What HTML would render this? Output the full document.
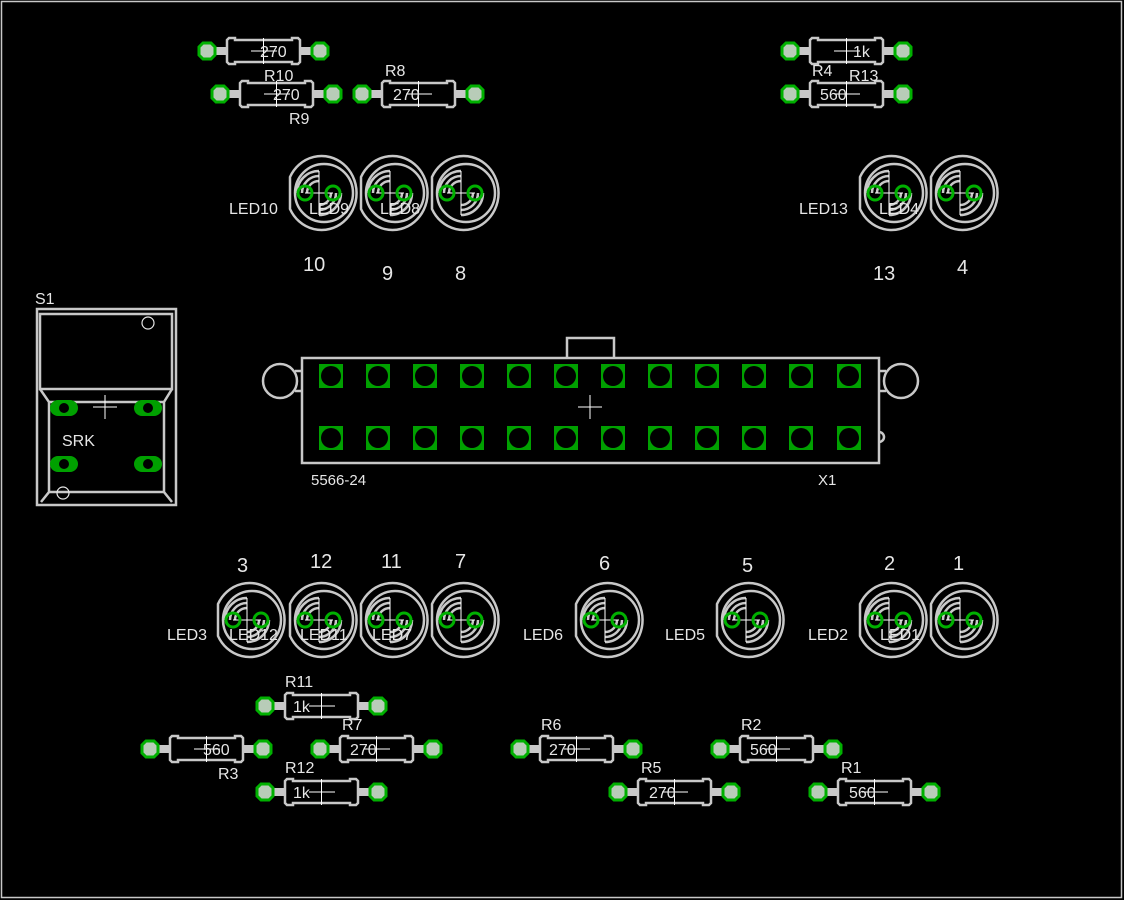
<!DOCTYPE html>
<html><head><meta charset="utf-8"><style>
html,body{margin:0;padding:0;background:#000;}
svg{display:block}
text{font-family:"Liberation Sans",sans-serif;fill:#e6e6e6}
</style></head><body>
<svg width="1124" height="900" viewBox="0 0 1124 900" xmlns="http://www.w3.org/2000/svg">
<defs>
<g id="res">
  <line x1="0" y1="0" x2="113" y2="0" stroke="#c8c8c8" stroke-width="8"/>
  <path d="M20,-11 L22,-13 L28,-13 L28,-11 L85,-11 L85,-13 L91,-13 L93,-11 L93,11 L91,13 L85,13 L85,11 L28,11 L28,13 L22,13 L20,11 Z" fill="#000" stroke="#c8c8c8" stroke-width="2.5"/>
  <polygon points="-4,-8 4,-8 8,-4 8,4 4,8 -4,8 -8,4 -8,-4" fill="#b8ccb8" stroke="#00b000" stroke-width="3"/>
  <polygon points="109,-8 117,-8 121,-4 121,4 117,8 109,8 105,4 105,-4" fill="#b8ccb8" stroke="#00b000" stroke-width="3"/>
  <line x1="44" y1="0" x2="70" y2="0" stroke="#fff" stroke-width="1"/>
  <line x1="56.5" y1="-13" x2="56.5" y2="13" stroke="#fff" stroke-width="1"/>
</g>
<g id="led" fill="none" stroke="#c8c8c8" stroke-width="2.5">
  <path d="M-29,-16 L-29,16 A35,37 0 1 0 -29,-16 Z"/>
  <circle cx="5" cy="0" r="29"/>
  <path d="M-22,0 A22,22 0 0 1 0,-22 M-17,0 A17,17 0 0 1 0,-17 M-12,0 A12,12 0 0 1 0,-12"/>
  <path d="M22,0 A22,22 0 0 1 0,22 M17,0 A17,17 0 0 1 0,17 M12,0 A12,12 0 0 1 0,12"/>
  <line x1="0" y1="-22" x2="0" y2="22" stroke="#fff" stroke-width="1"/>
  <line x1="-14" y1="0" x2="14" y2="0" stroke="#fff" stroke-width="1"/>
  <circle cx="-14" cy="0" r="7" stroke="#00b000" stroke-width="3"/>
  <circle cx="14" cy="0" r="7" stroke="#00b000" stroke-width="3"/>
</g>
<g id="pad">
  <rect x="-12" y="-12" width="24" height="24" fill="#00a000"/>
  <circle cx="0" cy="0" r="10" fill="#000"/>
</g>
</defs>
<rect x="1.5" y="1.5" width="1120" height="896" fill="none" stroke="#c8c8c8" stroke-width="1.5"/>

<use href="#res" x="207" y="51"/><text x="260" y="57" font-size="16">270</text><text x="264" y="81" font-size="16">R10</text>
<use href="#res" x="220" y="94"/><text x="273" y="100" font-size="16">270</text><text x="289" y="124" font-size="16">R9</text>
<use href="#res" x="362" y="94"/><text x="393" y="100" font-size="16">270</text><text x="385" y="76" font-size="16">R8</text>
<use href="#res" x="790" y="51"/><text x="853" y="57" font-size="16">1k</text><text x="812" y="76" font-size="16">R4</text>
<use href="#res" x="790" y="94"/><text x="820" y="100" font-size="16">560</text><text x="849" y="81" font-size="16">R13</text>
<use href="#res" x="265" y="706"/><text x="293" y="712" font-size="16">1k</text><text x="285" y="687" font-size="16">R11</text>
<use href="#res" x="150" y="749"/><text x="203" y="755" font-size="16">560</text><text x="218" y="779" font-size="16">R3</text>
<use href="#res" x="320" y="749"/><text x="350" y="755" font-size="16">270</text><text x="342" y="730" font-size="16">R7</text>
<use href="#res" x="265" y="792"/><text x="293" y="798" font-size="16">1k</text><text x="285" y="773" font-size="16">R12</text>
<use href="#res" x="520" y="749"/><text x="549" y="755" font-size="16">270</text><text x="541" y="730" font-size="16">R6</text>
<use href="#res" x="720" y="749"/><text x="750" y="755" font-size="16">560</text><text x="741" y="730" font-size="16">R2</text>
<use href="#res" x="618" y="792"/><text x="649" y="798" font-size="16">270</text><text x="641" y="773" font-size="16">R5</text>
<use href="#res" x="818" y="792"/><text x="849" y="798" font-size="16">560</text><text x="841" y="773" font-size="16">R1</text>

<use href="#led" x="319" y="193"/><use href="#led" x="390" y="193"/><use href="#led" x="461" y="193"/>
<use href="#led" x="889" y="193"/><use href="#led" x="960" y="193"/>
<g font-size="16">
<text x="229" y="214">LED10</text><text x="309" y="214">LED9</text><text x="380" y="214">LED8</text>
<text x="799" y="214">LED13</text><text x="879" y="214">LED4</text>
</g>
<g font-size="20">
<text x="303" y="271">10</text><text x="382" y="280">9</text><text x="455" y="280">8</text>
<text x="873" y="280">13</text><text x="957" y="274">4</text>
</g>

<use href="#led" x="247" y="620"/><use href="#led" x="319" y="620"/><use href="#led" x="390" y="620"/><use href="#led" x="461" y="620"/>
<use href="#led" x="605" y="620"/><use href="#led" x="746" y="620"/><use href="#led" x="889" y="620"/><use href="#led" x="960" y="620"/>
<g font-size="16">
<text x="167" y="640">LED3</text><text x="229" y="640">LED12</text><text x="300" y="640">LED11</text><text x="372" y="640">LED7</text>
<text x="523" y="640">LED6</text><text x="665" y="640">LED5</text><text x="808" y="640">LED2</text><text x="880" y="640">LED1</text>
</g>
<g font-size="20">
<text x="237" y="572">3</text><text x="310" y="568">12</text><text x="381" y="568">11</text><text x="455" y="568">7</text>
<text x="599" y="570">6</text><text x="742" y="572">5</text><text x="884" y="570">2</text><text x="953" y="570">1</text>
</g>

<g fill="none" stroke="#c8c8c8" stroke-width="2.5">
<rect x="302" y="358" width="577" height="105"/>
<path d="M567,358 L567,338 L614,338 L614,358"/>
<circle cx="280" cy="381" r="17"/>
<path d="M295,371 L302,371 M295,391 L302,391"/>
<circle cx="901" cy="381" r="17"/>
<path d="M879,371 L886,371 M879,391 L886,391"/>
<path d="M879,432 A5,5 0 0 1 879,442"/>
</g>
<g>
<use href="#pad" x="331" y="376"/><use href="#pad" x="378" y="376"/><use href="#pad" x="425" y="376"/><use href="#pad" x="472" y="376"/><use href="#pad" x="519" y="376"/><use href="#pad" x="566" y="376"/><use href="#pad" x="613" y="376"/><use href="#pad" x="660" y="376"/><use href="#pad" x="707" y="376"/><use href="#pad" x="754" y="376"/><use href="#pad" x="801" y="376"/><use href="#pad" x="849" y="376"/>
<use href="#pad" x="331" y="438"/><use href="#pad" x="378" y="438"/><use href="#pad" x="425" y="438"/><use href="#pad" x="472" y="438"/><use href="#pad" x="519" y="438"/><use href="#pad" x="566" y="438"/><use href="#pad" x="613" y="438"/><use href="#pad" x="660" y="438"/><use href="#pad" x="707" y="438"/><use href="#pad" x="754" y="438"/><use href="#pad" x="801" y="438"/><use href="#pad" x="849" y="438"/>
</g>
<path d="M578,407 L602,407 M590,395 L590,419" stroke="#fff" stroke-width="1"/>
<text x="311" y="485" font-size="15">5566-24</text>
<text x="818" y="485" font-size="15">X1</text>

<text x="35" y="304" font-size="16">S1</text>
<g fill="none" stroke="#c8c8c8" stroke-width="2.5">
<rect x="37" y="309" width="139" height="196"/>
<rect x="40" y="314" width="132" height="75"/>
<path d="M40,389 L49,402 L49,492 L41,502 M172,389 L164,402 L164,492 L172,502 M49,402 L164,402 M49,492 L164,492"/>
</g>
<circle cx="148" cy="323" r="6" fill="none" stroke="#e6e6e6" stroke-width="1.2"/>
<circle cx="63" cy="493" r="6" fill="none" stroke="#e6e6e6" stroke-width="1.2"/>
<g fill="#00a000">
<rect x="50" y="400" width="28" height="16" rx="8"/><rect x="134" y="400" width="28" height="16" rx="8"/>
<rect x="50" y="456" width="28" height="16" rx="8"/><rect x="134" y="456" width="28" height="16" rx="8"/>
</g>
<g fill="#000">
<circle cx="64" cy="408" r="5"/><circle cx="148" cy="408" r="5"/><circle cx="64" cy="464" r="5"/><circle cx="148" cy="464" r="5"/>
</g>
<path d="M93,407 L117,407 M105,395 L105,419" stroke="#fff" stroke-width="1"/>
<text x="62" y="446" font-size="16">SRK</text>
</svg>
</body></html>
